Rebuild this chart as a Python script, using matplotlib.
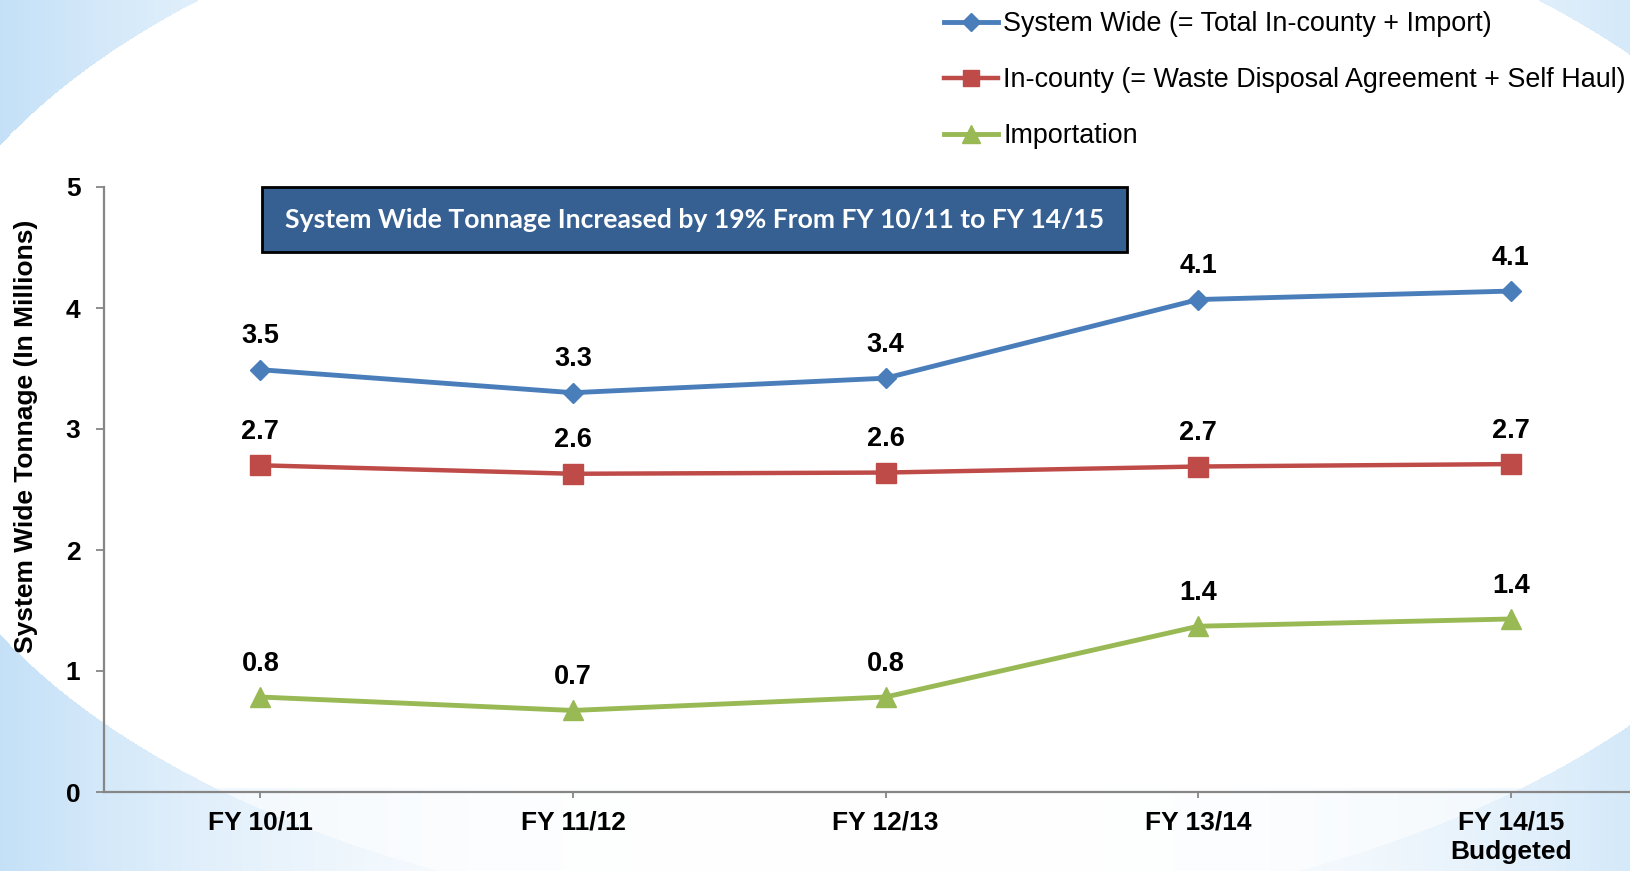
import numpy as np
import matplotlib
matplotlib.use("Agg")
import matplotlib.pyplot as plt
from matplotlib.patches import Rectangle

# ---- data ----
categories = ["FY 10/11", "FY 11/12", "FY 12/13", "FY 13/14", "FY 14/15\nBudgeted"]
system_wide = [3.49, 3.30, 3.42, 4.07, 4.14]
in_county = [2.70, 2.63, 2.64, 2.69, 2.71]
importation = [0.785, 0.674, 0.785, 1.37, 1.43]
system_labels = ["3.5", "3.3", "3.4", "4.1", "4.1"]
county_labels = ["2.7", "2.6", "2.6", "2.7", "2.7"]
import_labels = ["0.8", "0.7", "0.8", "1.4", "1.4"]
series_names = ["System Wide (= Total In-county + Import)",
                "In-county (= Waste Disposal Agreement + Self Haul)",
                "Importation"]
y_ticks = [0, 1, 2, 3, 4, 5]
banner_text = "System Wide Tonnage Increased by 19% From FY 10/11 to FY 14/15"
y_title = "System Wide Tonnage (In Millions)"

W, H = 1631, 871
fig = plt.figure(figsize=(W / 100, H / 100), dpi=100)

# ---- background (light blue corners, white ellipse) ----
yy, xx = np.mgrid[0:H, 0:W].astype(float)
cx, cy, a, b = 868.0, 390.0, 976.0, 535.0
blue = np.array([0.77, 0.88, 0.97])
t = np.clip(np.abs(xx - cx) / cx, 0, 1) ** 2.5
img = 1 - (1 - blue)[None, None, :] * t[:, :, None]
inside = ((xx - cx) / a) ** 2 + ((yy - cy) / b) ** 2 <= 1
band = yy >= 788
img[inside & ~band] = 1.0
sel = inside & band
img[sel] = 1 - (1 - blue)[None, :] * (t[sel][:, None] * 0.45)
bg = fig.add_axes([0, 0, 1, 1], zorder=0)
bg.imshow(img, aspect="auto", extent=(0, W, H, 0))
bg.axis("off")

# ---- main axes ----
left, right, bottom_px, top_px = 104, 1631, 792, 187
ax = fig.add_axes([left / W, (H - bottom_px) / H, (right - left) / W, (bottom_px - top_px) / H], zorder=1)
ax.patch.set_alpha(0)

x = np.arange(len(categories))
blue_c, red_c, green_c = "#4A7EBB", "#BE4B48", "#98B954"
l1, = ax.plot(x, system_wide, color=blue_c, lw=3.5, marker="D", ms=10.5, label=series_names[0])
l2, = ax.plot(x, in_county, color=red_c, lw=3.2, marker="s", ms=14, label=series_names[1])
l3, = ax.plot(x, importation, color=green_c, lw=3.5, marker="^", ms=14.5, label=series_names[2])

for vals, labs in [(system_wide, system_labels), (in_county, county_labels), (importation, import_labels)]:
    for xi, v, s in zip(x, vals, labs):
        ax.annotate(s, (xi, v), xytext=(0, 19), textcoords="offset points",
                    ha="center", va="baseline", fontsize=19.5, fontweight="bold",
                    family="Liberation Sans")

ax.set_xlim(-0.5, 4.384)
ax.set_ylim(0, 5)
ax.set_yticks(y_ticks)
ax.set_xticks(x)
ax.set_xticklabels(categories, linespacing=1.25)
for lab in ax.get_xticklabels() + ax.get_yticklabels():
    lab.set_fontsize(19)
    lab.set_fontweight("bold")
    lab.set_family("Liberation Sans")
ax.tick_params(axis="y", length=6, width=1.3, color="#868686", pad=11)
ax.tick_params(axis="x", length=4.5, width=1.3, color="#868686", pad=9)
for s in ["top", "right"]:
    ax.spines[s].set_visible(False)
for s in ["left", "bottom"]:
    ax.spines[s].set_color("#868686")
    ax.spines[s].set_linewidth(1.6)

ax.set_ylabel(y_title, fontsize=19, fontweight="bold", family="Liberation Sans")
ax.yaxis.set_label_coords(-0.043, 0.588)

# ---- banner ----
bx0, bx1, by0, by1 = 262, 1127, 187, 252
fig.patches.append(Rectangle((bx0 / W, 1 - by1 / H), (bx1 - bx0) / W, (by1 - by0) / H,
                             transform=fig.transFigure, facecolor="#376092",
                             edgecolor="black", linewidth=2, zorder=3))
fig.text((bx0 + bx1) / 2 / W, 1 - (by0 + by1) / 2 / H, banner_text, color="white",
         fontsize=19.1, fontweight="bold", family="Lato", ha="center", va="center", zorder=4)

# ---- legend ----
leg = fig.legend(handles=[l1, l2, l3], loc="upper left", bbox_to_anchor=(944 / W, 1 - 11 / H),
                 frameon=False, borderpad=0, borderaxespad=0, handlelength=2.0,
                 handletextpad=0.2, labelspacing=1.12, markerscale=0.85,
                 prop={"family": "Liberation Sans", "size": 19.4})

fig.savefig("out.png", dpi=100)
